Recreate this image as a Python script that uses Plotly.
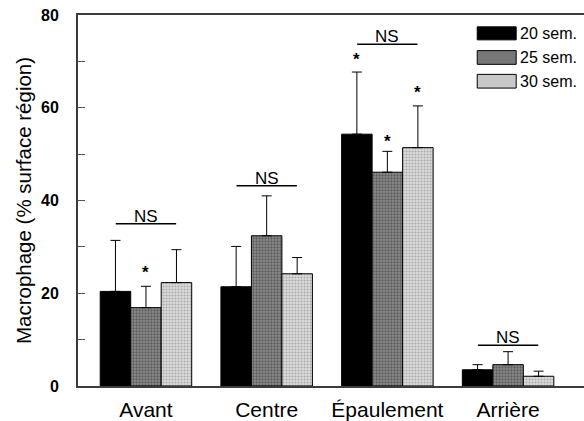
import plotly.graph_objects as go

categories = ["Avant", "Centre", "Épaulement", "Arrière"]
series_names = ["20 sem.", "25 sem.", "30 sem."]
vals_20 = [20.4, 21.4, 54.3, 3.5]
vals_25 = [16.9, 32.4, 46.1, 4.6]
vals_30 = [22.3, 24.2, 51.4, 2.1]
err_20 = [11.0, 8.7, 13.4, 1.1]
err_25 = [4.6, 8.6, 4.5, 2.8]
err_30 = [7.1, 3.5, 9.0, 1.1]
# significance markers: (category index, series index, y value)
stars = [(0, 1, 25.2), (2, 0, 71.1), (2, 1, 53.3), (2, 2, 63.9)]
# NS bars: (category index, y value)
ns_lines = [(0, 35.0), (1, 43.2), (2, 73.7), (3, 8.8)]
y_ticks = [0, 20, 40, 60, 80]

FONT = "Arial, Liberation Sans, Helvetica, sans-serif"

styles = [
    dict(color="#000000"),
    dict(color="#7a7a7a", pattern=dict(shape=".", fgcolor="#2a2a2a", bgcolor="#8c8c8c", size=3, solidity=0.45)),
    dict(color="#cccccc", pattern=dict(shape=".", fgcolor="#7a7a7a", bgcolor="#dcdcdc", size=3, solidity=0.4)),
]
legend_fill = ["#000000", "#777777", "#c8c8c8"]

fig = go.Figure()
for name, v, e, st in zip(series_names, [vals_20, vals_25, vals_30], [err_20, err_25, err_30], styles):
    fig.add_trace(go.Bar(
        x=list(range(len(categories))), y=v, name=name,
        marker=dict(line=dict(color="#000000", width=1), **st),
        error_y=dict(type="data", array=e, arrayminus=[0] * len(e), symmetric=False,
                     color="#000000", thickness=1, width=5),
        showlegend=False,
    ))

bargap = 0.242
bw = (1 - bargap) / 3
annotations = []
shapes = []
for ci, si, yv in stars:
    xpos = ci + (si - 1) * bw
    annotations.append(dict(x=xpos, y=yv, xref="x", yref="y", text="<b>*</b>", showarrow=False,
                            font=dict(family=FONT, size=17, color="#000"), yanchor="middle", yshift=-3))
for ci, yv in ns_lines:
    shapes.append(dict(type="line", xref="x", yref="y", x0=ci - 0.25, x1=ci + 0.25, y0=yv, y1=yv,
                       line=dict(color="#000", width=1.5)))
    annotations.append(dict(x=ci, y=yv, xref="x", yref="y", text="NS", showarrow=False,
                            font=dict(family=FONT, size=17, color="#000"), yanchor="bottom", yshift=-4))

# custom legend
box_y = [(0.968, 0.933), (0.904, 0.867), (0.840, 0.803)]
for (y1, y0), col, name in zip(box_y, legend_fill, series_names):
    shapes.append(dict(type="rect", xref="paper", yref="paper", x0=0.789, x1=0.866, y0=y0, y1=y1,
                       fillcolor=col, line=dict(color="#000", width=1)))
    annotations.append(dict(x=0.869, y=(y0 + y1) / 2, xref="paper", yref="paper", text=name,
                            showarrow=False, xanchor="left", yanchor="middle",
                            font=dict(family=FONT, size=16, color="#000")))

fig.update_layout(
    width=584, height=421,
    margin=dict(l=78, r=0, t=15, b=30),
    plot_bgcolor="white", paper_bgcolor="white",
    barmode="group", bargap=bargap, bargroupgap=0,
    font=dict(family=FONT, color="#000"),
    shapes=shapes, annotations=annotations,
    xaxis=dict(
        tickmode="array", tickvals=list(range(len(categories))), ticktext=categories,
        range=[-0.563, 3.629], showline=True, linecolor="#3c3c3c", linewidth=2, mirror=True,
        ticks="", showgrid=False, zeroline=False, ticklabelstandoff=4, ticklabeloverflow="allow",
        tickfont=dict(size=21, family=FONT, color="#000"),
    ),
    yaxis=dict(
        range=[0, 80], tickvals=y_ticks, ticktext=[f"<b>{t}</b>" for t in y_ticks],
        showline=True, linecolor="#3c3c3c", linewidth=2, ticks="inside", ticklen=7, tickwidth=1,
        tickcolor="#555", showgrid=False, zeroline=False, ticklabeloverflow="allow",
        minor=dict(dtick=10, ticks="inside", ticklen=7, tickwidth=1, tickcolor="#555"),
        tickfont=dict(size=16, family=FONT, color="#000"), ticklabelstandoff=14,
        title=dict(text="Macrophage (% surface région)", font=dict(size=20.5, family=FONT, color="#000"),
                   standoff=4),
    ),
)

# remove the browser's default 8px body margin so the figure fills the window exactly
fig.write_html("out.html", config={"displayModeBar": False},
               post_script="document.body.style.margin='0px';document.body.style.overflow='hidden';")
